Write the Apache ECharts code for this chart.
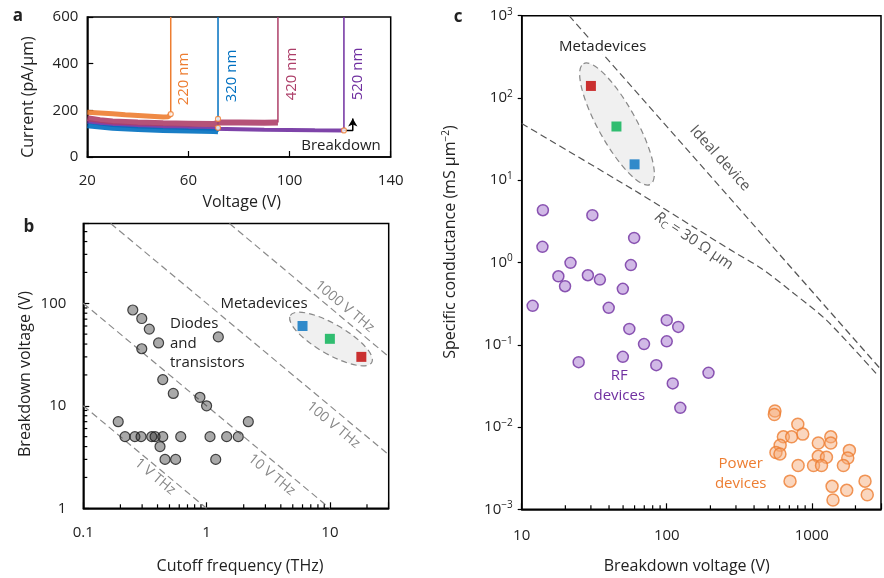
<!DOCTYPE html>
<html>
<head>
<meta charset="utf-8">
<script src="https://cdn.jsdelivr.net/npm/echarts@6/dist/echarts.min.js"></script>
<style>
html, body { margin: 0; padding: 0; background: #fff; }
#app { width: 884px; height: 578px; }
</style>
</head>
<body>
<div id="app"></div>
<script>
// ---- panel a: I-V sweeps up to breakdown ----
var aV220 = [20, 25, 30, 35, 40, 45, 50, 52, 53];
var aI220 = [192, 189, 185, 181, 178, 175, 171, 172, 184];
var aV320 = [20, 25, 30, 40, 50, 60, 70, 71.7];
var aI320 = [134, 128, 123, 118, 114, 111, 109, 108];
var aV420 = [20, 25, 30, 40, 50, 60, 70, 72, 80, 90, 95.4];
var aI420 = [166, 158, 152, 148, 145, 143, 141, 148, 148, 147, 148];
var aV520 = [20, 25, 30, 40, 50, 60, 70, 80, 90, 100, 110, 121.5];
var aI520 = [151, 143, 137, 131, 127, 124, 121, 119, 117, 116, 115, 114];
var aBreakV = [53, 71.7, 95.4, 121.5];
var aBreakI = [184, 108, 148, 114];
var aJumpV = [71.7, 71.7];
var aJumpI = [125, 163];
var aArrowV = [121.5, 125, 125];
var aArrowI = [114, 114, 165];
var aNames = ['220 nm', '320 nm', '420 nm', '520 nm'];
var aXTicks = [20, 60, 100, 140];

// ---- panel b: breakdown voltage vs cutoff frequency ----
var bDevF = [0.252, 0.298, 0.343, 1.245, 0.408, 0.298, 0.441, 0.537, 0.883, 1.0, 0.192, 2.18,
             0.218, 0.262, 0.294, 0.359, 0.382, 0.441, 0.617, 1.066, 1.455, 1.807, 0.419, 0.46, 0.561, 1.186];
var bDevV = [86, 71, 56, 47, 41, 36, 18, 13.2, 12.1, 10, 7, 7,
             5, 5, 5, 5, 5, 5, 5, 5, 5, 5, 4, 3, 3, 3];
var bMetaF = [6, 10, 18];
var bMetaV = [60, 45, 30];
var bLine1 = [[0.1, 10], [1, 1]];
var bLine10 = [[0.1, 100], [10, 1]];
var bLine100 = [[0.1667, 600], [30, 3.33]];
var bLine1000 = [[1.533, 600], [30, 30.2]];
var bMinorX = [0.2, 0.3, 0.4, 0.5, 0.6, 0.7, 0.8, 0.9, 2, 3, 4, 5, 6, 7, 8, 9, 20];
var bMinorY = [2, 3, 4, 5, 6, 7, 8, 9, 20, 30, 40, 50, 60, 70, 80, 90, 200, 300, 400, 500];

// ---- panel c: specific conductance vs breakdown voltage ----
var rfV = [14.0, 30.7, 13.9, 59.6, 21.7, 56.6, 17.9, 28.6, 34.6, 19.9, 49.8, 11.9,
           39.8, 100, 120, 55.2, 69.7, 100, 24.7, 49.8, 84.7, 194, 110, 124];
var rfG = [4.32, 3.76, 1.55, 1.99, 0.99, 0.93, 0.68, 0.70, 0.62, 0.515, 0.478, 0.297,
           0.281, 0.199, 0.165, 0.156, 0.102, 0.110, 0.0615, 0.0713, 0.0565, 0.0456, 0.0339, 0.0171];
var pwV = [557, 552, 801, 866, 637, 726, 1352, 1109, 1352, 605, 1816, 566, 603,
           1109, 1262, 1770, 1028, 1167, 1652, 805, 708, 2328, 1380, 1741, 2412, 1400];
var pwG = [0.0157, 0.0142, 0.0108, 0.0082, 0.0076, 0.0076, 0.0076, 0.0064, 0.0064, 0.0060, 0.0052, 0.0049, 0.0047,
           0.0044, 0.0043, 0.0042, 0.0034, 0.0034, 0.0034, 0.0034, 0.0022, 0.0022, 0.0019, 0.0017, 0.0015, 0.0013];
var cMetaV = [30, 45, 60];
var cMetaG = [140, 45, 15.6];
var cIdeal = [[21.2, 1000], [3000, 0.05]];
var cRcV = [10, 59.6, 159, 289, 449, 753, 1262, 2773];
var cRcG = [48.9, 7.56, 2.59, 1.35, 0.846, 0.42, 0.199, 0.0448];
var cMinorX = [20, 30, 40, 50, 60, 70, 80, 90, 200, 300, 400, 500, 600, 700, 800, 900, 2000];

var metaColors = ['#0070c0', '#00b050', '#c00000'];
var aColors = ['#ed7d31', '#0070c0', '#ad3f69', '#7030a0'];
var FONT = '"Open Sans"';

function zip(xs, ys) {
    return xs.map(function (x, i) { return [x, ys[i]]; });
}
function decade(v) {
    var e = Math.log10(v);
    return Math.abs(e - Math.round(e)) < 1e-6 ? Math.round(e) : null;
}

// 轴的公共样式
function baseAxis(extra) {
    var ax = {
        axisLine: { show: true, onZero: false, lineStyle: { color: '#000', width: 1.5 } },
        axisTick: { show: true, inside: true, length: 6, lineStyle: { color: '#000', width: 1.2 } },
        splitLine: { show: false },
        axisLabel: { color: '#222', fontSize: 15, fontFamily: FONT }
    };
    for (var k in extra) {
        if (typeof extra[k] === 'object' && ax[k] && !Array.isArray(extra[k])) {
            ax[k] = Object.assign({}, ax[k], extra[k]);
        } else {
            ax[k] = extra[k];
        }
    }
    return ax;
}

// 对数轴的次刻度 (custom series)
function minorTicks(xi, yi, data, dir, len) {
    return {
        type: 'custom', xAxisIndex: xi, yAxisIndex: yi, silent: true, z: 5,
        data: data,
        renderItem: function (params, api) {
            var p = api.coord([api.value(0), api.value(1)]);
            var q = dir === 'x' ? [p[0], p[1] - len] : [p[0] + len, p[1]];
            return {
                type: 'line',
                shape: { x1: p[0], y1: p[1], x2: q[0], y2: q[1] },
                style: { stroke: '#000', lineWidth: 1.2 }
            };
        }
    };
}

function dashed(xi, yi, data, color, smooth) {
    return {
        type: 'line', xAxisIndex: xi, yAxisIndex: yi, data: data, symbol: 'none',
        smooth: smooth || false, silent: true, z: 3,
        lineStyle: { color: color, width: 1.2, type: [7, 4] }
    };
}

function label(text, x, y, o) {
    o = o || {};
    var st = {
        text: text,
        fill: o.color || '#222',
        font: (o.weight || 'normal') + ' ' + (o.size || 15) + 'px ' + FONT,
        align: o.align || 'center', textAlign: o.align || 'center',
        verticalAlign: 'middle', textVerticalAlign: 'middle'
    };
    if (o.rich) st.rich = o.rich;
    if (o.bg) { st.backgroundColor = o.bg; st.padding = [0, 2]; }
    return {
        type: 'text', x: x, y: y, z: 100,
        rotation: (o.rot || 0) * Math.PI / 180,
        style: st
    };
}

var series = [];

// panel a bands, vertical breakdown lines
var aV = [aV520, aV420, aV320, aV220];
var aI = [aI520, aI420, aI320, aI220];
var aIdx = [3, 2, 1, 0];
var aWidths = [4, 6, 5, 5];
aIdx.forEach(function (k, j) {
    series.push({
        type: 'line', xAxisIndex: 0, yAxisIndex: 0, symbol: 'none', z: 3 + j,
        data: zip(aV[j], aI[j]),
        lineStyle: { color: aColors[k], width: aWidths[j], opacity: 0.9 }
    });
    series.push({
        type: 'line', xAxisIndex: 0, yAxisIndex: 0, symbol: 'none', z: 3,
        data: [[aBreakV[k], aBreakI[k]], [aBreakV[k], 600]],
        lineStyle: { color: aColors[k], width: 1.5 }
    });
});
series.push({
    type: 'scatter', xAxisIndex: 0, yAxisIndex: 0, symbolSize: 5, z: 8,
    data: [[aBreakV[0], aBreakI[0]], [aBreakV[3], aBreakI[3]]].concat(zip(aJumpV, aJumpI)),
    itemStyle: {
        color: '#fff', borderWidth: 1.2,
        borderColor: function (p) { return p.dataIndex === 0 ? aColors[0] : (p.dataIndex === 1 ? aColors[3] : aColors[1]); }
    }
});
series.push({
    type: 'line', xAxisIndex: 0, yAxisIndex: 0, symbol: 'none', showSymbol: true, z: 8,
    data: zip(aArrowV, aArrowI).map(function (d, i) {
        return i === aArrowV.length - 1 ? { value: d, symbol: 'arrow', symbolSize: [7, 8] } : { value: d };
    }),
    lineStyle: { color: '#000', width: 1.5 },
    itemStyle: { color: '#000' }
});

// panel b
series.push(dashed(1, 1, bLine1, '#8a8a8a'));
series.push(dashed(1, 1, bLine10, '#8a8a8a'));
series.push(dashed(1, 1, bLine100, '#8a8a8a'));
series.push(dashed(1, 1, bLine1000, '#8a8a8a'));
series.push({
    type: 'scatter', xAxisIndex: 1, yAxisIndex: 1, symbolSize: 10, z: 6,
    data: zip(bDevF, bDevV),
    itemStyle: { color: 'rgba(40,40,40,0.5)', borderColor: '#1a1a1a', borderWidth: 1.2 }
});
series.push({
    type: 'scatter', xAxisIndex: 1, yAxisIndex: 1, symbol: 'rect', symbolSize: 10, z: 7,
    data: zip(bMetaF, bMetaV),
    itemStyle: { color: function (p) { return metaColors[p.dataIndex]; } }
});
series.push(minorTicks(1, 1, bMinorX.map(function (v) { return [v, 1]; }), 'x', 4));
series.push(minorTicks(1, 1, bMinorY.map(function (v) { return [0.1, v]; }), 'y', 4));

// panel c
series.push(dashed(2, 2, cIdeal, '#555'));
series.push(dashed(2, 2, zip(cRcV, cRcG), '#555', 0.3));
series.push({
    type: 'scatter', xAxisIndex: 2, yAxisIndex: 2, symbolSize: 11, z: 6,
    data: zip(rfV, rfG),
    itemStyle: { color: '#c6a8e0', borderColor: '#7030a0', borderWidth: 1.5 }
});
series.push({
    type: 'scatter', xAxisIndex: 2, yAxisIndex: 2, symbolSize: 12, z: 6,
    data: zip(pwV, pwG),
    itemStyle: { color: 'rgba(244,170,120,0.6)', borderColor: '#ed7d31', borderWidth: 1.5 }
});
series.push({
    type: 'scatter', xAxisIndex: 2, yAxisIndex: 2, symbol: 'rect', symbolSize: 10, z: 7,
    data: zip(cMetaV, cMetaG),
    itemStyle: { color: function (p) { return metaColors[2 - p.dataIndex]; } }
});
series.push(minorTicks(2, 2, cMinorX.map(function (v) { return [v, 0.001]; }), 'x', 4));

var sup = { fontSize: 10, fontFamily: FONT, color: '#222', verticalAlign: 'bottom', padding: [0, 0, 8, 0] };

var option = {
    animation: false,
    textStyle: { fontFamily: FONT },
    grid: [
        { left: 87.3, top: 17, width: 303.4, height: 140, show: true, borderColor: '#000', borderWidth: 1.5 },
        { left: 83.3, top: 223.5, width: 305.4, height: 284.8, show: true, borderColor: '#000', borderWidth: 1.5 },
        { left: 521.7, top: 15.7, width: 367.4, height: 493.6, show: true, borderColor: '#000', borderWidth: 1.5 }
    ],
    xAxis: [
        baseAxis({
            type: 'value', gridIndex: 0, min: 20, max: 140,
            axisTick: { customValues: aXTicks },
            axisLabel: { customValues: aXTicks, margin: 16 }
        }),
        baseAxis({
            type: 'log', logBase: 10, gridIndex: 1, min: 0.1, max: 30,
            axisLabel: {
                margin: 17,
                formatter: function (v) {
                    var e = decade(v);
                    if (e === null) return '';
                    return e < 0 ? Math.pow(10, e).toFixed(-e) : String(Math.pow(10, e));
                }
            }
        }),
        baseAxis({
            type: 'log', logBase: 10, gridIndex: 2, min: 10, max: 3000,
            axisLabel: {
                margin: 19,
                formatter: function (v) {
                    var e = decade(v);
                    return e === null ? '' : String(Math.pow(10, e));
                }
            }
        })
    ],
    yAxis: [
        baseAxis({
            type: 'value', gridIndex: 0, min: 0, max: 600, interval: 200,
            axisLabel: { margin: 9 }
        }),
        baseAxis({
            type: 'log', logBase: 10, gridIndex: 1, min: 1, max: 600,
            axisLabel: {
                margin: 17,
                formatter: function (v) {
                    var e = decade(v);
                    return e === null ? '' : String(Math.pow(10, e));
                }
            }
        }),
        baseAxis({
            type: 'log', logBase: 10, gridIndex: 2, min: 0.001, max: 1000,
            axisTick: { inside: false, length: 4 },
            axisLabel: {
                margin: 9,
                formatter: function (v) {
                    var e = decade(v);
                    if (e === null) return '';
                    return '10{sup|' + (e < 0 ? '\u2212' + (-e) : e) + '}';
                },
                rich: { sup: sup }
            }
        })
    ],
    series: series,
    graphic: [
        // ellipses around metadevices
        { type: 'ellipse', x: 331, y: 339, rotation: -30 * Math.PI / 180, z: 1,
          shape: { cx: 0, cy: 0, rx: 47, ry: 15 },
          style: { fill: '#f0f0f0', stroke: '#888', lineWidth: 1.2, lineDash: [6, 4] } },
        { type: 'ellipse', x: 617, y: 124, rotation: -61 * Math.PI / 180, z: 1,
          shape: { cx: 0, cy: 0, rx: 69, ry: 19 },
          style: { fill: '#f0f0f0', stroke: '#888', lineWidth: 1.2, lineDash: [6, 4] } },

        label('a', 18, 16, { weight: 'bold', size: 17 }),
        label('b', 29, 227, { weight: 'bold', size: 17 }),
        label('c', 458, 17, { weight: 'bold', size: 17 }),

        // panel a
        label('Current (pA/µm)', 28, 97, { rot: 90, size: 16 }),
        label('Voltage (V)', 241.7, 202, { size: 16 }),
        label(aNames[0], 184, 79, { rot: 90, color: aColors[0] }),
        label(aNames[1], 232, 76, { rot: 90, color: aColors[1] }),
        label(aNames[2], 292, 74, { rot: 90, color: aColors[2] }),
        label(aNames[3], 357.5, 74, { rot: 90, color: aColors[3] }),
        label('Breakdown', 341, 146),

        // panel b
        label('Breakdown voltage (V)', 25, 374, { rot: 90, size: 16 }),
        label('Cutoff frequency (THz)', 240, 566.7, { size: 16 }),
        label('Metadevices', 264, 304),
        label('Diodes', 170, 324, { align: 'left' }),
        label('and', 170, 343.3, { align: 'left' }),
        label('transistors', 170, 362.7, { align: 'left' }),
        label('1000 V THz', 344.5, 306.5, { rot: -39.7, color: '#888', size: 14 }),
        label('100 V THz', 333.3, 425, { rot: -39.7, color: '#888', size: 14 }),
        label('10 V THz', 271.7, 475, { rot: -39.7, color: '#888', size: 14 }),
        label('1 V THz', 155, 476.7, { rot: -39.7, color: '#888', size: 14 }),

        // panel c
        label('Specific conductance (mS µm{s|\u22122})', 450, 242, {
            rot: 90, size: 16,
            rich: { s: sup }
        }),
        label('Breakdown voltage (V)', 686.7, 566, { size: 16 }),
        label('Metadevices', 602.7, 46.7, { bg: '#fff' }),
        label('Ideal device', 720, 158.3, { rot: -48, color: '#555' }),
        label('{i|R}{s|C} = 30 Ω µm', 694, 241, {
            rot: -34, color: '#555',
            rich: {
                i: { fontStyle: 'italic', fontSize: 15, fontFamily: FONT, color: '#555' },
                s: { fontSize: 10, fontFamily: FONT, color: '#555', verticalAlign: 'top', padding: [8, 0, 0, 0] }
            }
        }),
        label('RF', 619.3, 376, { color: '#7030a0' }),
        label('devices', 619.3, 395.7, { color: '#7030a0' }),
        label('Power', 740.7, 464, { color: '#ed7d31' }),
        label('devices', 740.7, 483.3, { color: '#ed7d31' })
    ]
};

var chart = echarts.init(document.getElementById('app'));
chart.setOption(option);
</script>
</body>
</html>
